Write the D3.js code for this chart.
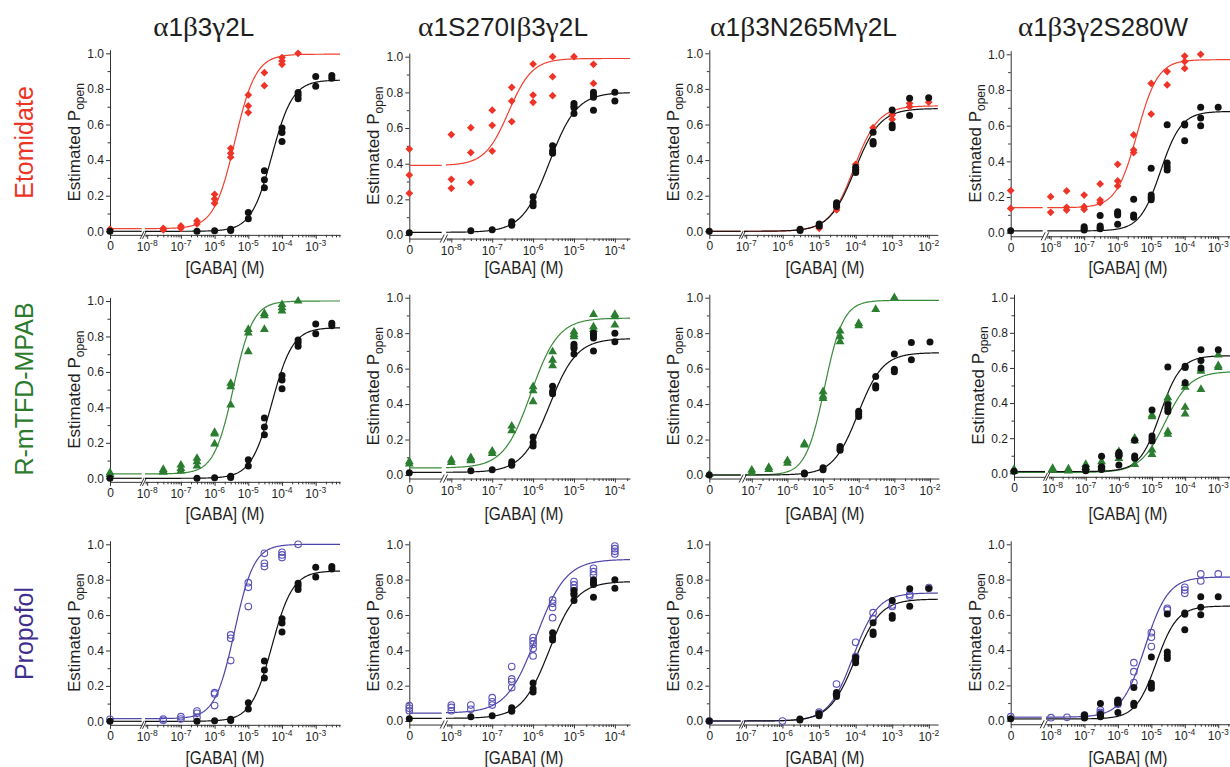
<!DOCTYPE html>
<html><head><meta charset="utf-8">
<script src="https://cdn.jsdelivr.net/npm/d3@7"></script>
<style>body{margin:0;background:#fff;overflow:hidden}</style>
</head><body>
<svg id="c" width="1230" height="767"></svg>
<script>
// ---------------- DATA ----------------
const columnTitles = ["α1β3γ2L", "α1S270Iβ3γ2L", "α1β3N265Mγ2L", "α1β3γ2S280W"];
const drugNames = ["Etomidate", "R-mTFD-MPAB", "Propofol"];
const xAxisTitle = "[GABA] (M)";
const yAxisTitle = "Estimated P";
const yAxisSub = "open";
const yTickValues = [0, 0.2, 0.4, 0.6, 0.8, 1.0];
const yMinorValues = [0.1, 0.3, 0.5, 0.7, 0.9];

// GABA alone (control, black) per receptor column: [GABA concentration (M), values]
const gabaAlone1 = [[0,[0.0]],[3e-7,[0.0]],[1e-6,[0.003]],[3e-6,[0.011,0.005]],[1e-5,[0.105,0.07]],[3e-5,[0.34,0.29,0.245]],[1e-4,[0.58,0.555,0.505]],[3e-4,[0.78,0.765,0.745]],[1e-3,[0.87,0.815]],[3e-3,[0.875,0.86]]];
const gabaAlone2 = [[0,[0.013]],[3e-8,[0.024]],[1e-7,[0.03]],[3e-7,[0.075,0.06,0.055]],[1e-6,[0.215,0.183,0.164]],[3e-6,[0.50,0.473,0.458]],[1e-5,[0.738,0.723,0.714,0.682]],[3e-5,[0.80,0.785,0.772,0.70]],[1e-4,[0.80,0.751]]];
const gabaAlone3 = [[0,[0.0]],[3e-6,[0.011,0.005]],[1e-5,[0.041,0.03]],[3e-5,[0.161,0.148,0.139]],[1e-4,[0.36,0.345,0.33]],[3e-4,[0.556,0.504,0.49]],[1e-3,[0.682,0.597,0.582]],[3e-3,[0.748,0.65]],[1e-2,[0.75]]];
const gabaAlone4 = [[0,[0.011]],[1e-7,[0.033,0.022,0.015]],[3e-7,[0.097,0.037,0.027,0.022]],[1e-6,[0.118,0.108,0.099,0.047]],[3e-6,[0.188,0.099,0.086]],[1e-5,[0.361,0.212,0.197,0.184]],[3e-5,[0.605,0.39,0.37,0.352]],[1e-4,[0.61,0.603,0.515]],[3e-4,[0.703,0.643,0.6]],[1e-3,[0.703]]];

// + Etomidate (red diamonds)
const etomidate1 = [[0,[0.012]],[3e-8,[0.017,0.008]],[1e-7,[0.03,0.017]],[3e-7,[0.058,0.041]],[1e-6,[0.208,0.182,0.157]],[3e-6,[0.466,0.438,0.416]],[1e-5,[0.766,0.704,0.667]],[3e-5,[0.891,0.818]],[1e-4,[0.976,0.957,0.938]],[3e-4,[1.0]]];
const etomidate2 = [[0,[0.482,0.336,0.234]],[1e-8,[0.563,0.312,0.262]],[3e-8,[0.602,0.462,0.295]],[1e-7,[0.70,0.615,0.471]],[3e-7,[0.828,0.751,0.636]],[1e-6,[0.959,0.785,0.744]],[3e-6,[1.0,0.888,0.781]],[1e-5,[1.0]],[3e-5,[0.957,0.85]]];
const etomidate3 = [[0,[0.0]],[1e-5,[0.025,0.017]],[3e-5,[0.135,0.12]],[1e-4,[0.376,0.345]],[3e-4,[0.582,0.494]],[1e-3,[0.654,0.629]],[3e-3,[0.719,0.70]],[1e-2,[0.725]]];
const etomidate4 = [[0,[0.236,0.136]],[1e-8,[0.202,0.114]],[3e-8,[0.234,0.142,0.127]],[1e-7,[0.211,0.146,0.131]],[3e-7,[0.273,0.183,0.168]],[1e-6,[0.383,0.29,0.262]],[3e-6,[0.548,0.464,0.449]],[1e-5,[0.837,0.665]],[3e-5,[0.903,0.828]],[1e-4,[0.99,0.959,0.921]],[3e-4,[1.0]]];

// + R-mTFD-MPAB (green triangles)
const mpab1 = [[0,[0.032,0.022]],[3e-8,[0.05,0.041,0.035]],[1e-7,[0.075,0.056,0.041]],[3e-7,[0.113,0.094,0.07]],[1e-6,[0.259,0.25,0.194]],[3e-6,[0.536,0.517,0.414]],[1e-5,[0.84,0.82,0.714]],[3e-5,[0.93,0.917,0.84]],[1e-4,[0.98,0.962,0.944]],[3e-4,[1.0]]];
const mpab2 = [[0,[0.075,0.062]],[1e-8,[0.085,0.071]],[3e-8,[0.098,0.088,0.081]],[1e-7,[0.135,0.122]],[3e-7,[0.276,0.25]],[1e-6,[0.498,0.476,0.414]],[3e-6,[0.695,0.648,0.617]],[1e-5,[0.808,0.793,0.78]],[3e-5,[0.906,0.836,0.821]],[1e-4,[0.906,0.893,0.846]]];
const mpab3 = [[0,[0.004]],[1e-7,[0.028,0.015]],[3e-7,[0.043,0.032]],[1e-6,[0.081,0.066]],[3e-6,[0.177,0.17]],[1e-5,[0.47,0.445,0.432]],[3e-5,[0.812,0.78,0.752]],[1e-4,[0.855,0.842]],[3e-4,[0.934]],[1e-3,[1.0]]];
const mpab4 = [[0,[0.023,0.01]],[1e-8,[0.028,0.019]],[3e-8,[0.025,0.013]],[1e-7,[0.051,0.034,0.019]],[3e-7,[0.066,0.047,0.03]],[1e-6,[0.123,0.11,0.085]],[3e-6,[0.2,0.186,0.051]],[1e-5,[0.332,0.323,0.133,0.108]],[3e-5,[0.43,0.41,0.237,0.222]],[1e-4,[0.512,0.49,0.376,0.338]],[3e-4,[0.594,0.582,0.478]],[1e-3,[0.674,0.613,0.603]]];

// + Propofol (purple open circles)
const propofol1 = [[0,[0.011]],[3e-8,[0.013,0.006]],[1e-7,[0.026,0.013]],[3e-7,[0.058,0.045,0.023]],[1e-6,[0.162,0.154,0.089]],[3e-6,[0.488,0.469,0.343]],[1e-5,[0.783,0.757,0.648]],[3e-5,[0.949,0.893,0.874]],[1e-4,[0.955,0.94,0.925]],[3e-4,[1.0]]];
const propofol2 = [[0,[0.087,0.072,0.058]],[1e-8,[0.09,0.077,0.058]],[3e-8,[0.09,0.066]],[1e-7,[0.132,0.109,0.09]],[3e-7,[0.308,0.238,0.223,0.189]],[1e-6,[0.472,0.453,0.434,0.411,0.368]],[3e-6,[0.685,0.666,0.643,0.585]],[1e-5,[0.789,0.77,0.751]],[3e-5,[0.864,0.845,0.826]],[1e-4,[0.99,0.975,0.96,0.945]]];
const propofol3 = [[0,[0.0]],[1e-6,[0.0]],[1e-5,[0.051,0.043]],[3e-5,[0.209,0.151]],[1e-4,[0.445,0.364]],[3e-4,[0.613,0.579]],[1e-3,[0.657,0.648]],[3e-3,[0.717,0.708]],[1e-2,[0.755]]];
const propofol4 = [[0,[0.023]],[1e-8,[0.017]],[3e-8,[0.019]],[1e-7,[0.032,0.022]],[3e-7,[0.06,0.047,0.04]],[1e-6,[0.112,0.102,0.093]],[3e-6,[0.329,0.278,0.216]],[1e-5,[0.499,0.473,0.42]],[3e-5,[0.637,0.628]],[1e-4,[0.756,0.741,0.722]],[3e-4,[0.832,0.792]],[1e-3,[0.832]]];

// Fitted Hill curves: [bottom, top, log10 EC50, Hill coefficient], row by row (4 per row)
const controlFits = [
  [0.0,0.85,-4.30,1.4],[0.015,0.80,-5.60,1.3],[0.0,0.69,-4.02,1.25],[0.01,0.68,-4.72,1.4],
  [0.0,0.85,-4.30,1.4],[0.015,0.77,-5.60,1.3],[0.0,0.69,-4.02,1.25],[0.01,0.67,-4.75,1.4],
  [0.0,0.85,-4.30,1.4],[0.015,0.79,-5.60,1.3],[0.0,0.69,-4.02,1.25],[0.01,0.65,-4.85,1.4]
];
const drugFits = [
  [0.015,0.995,-5.40,1.4],[0.39,0.99,-6.60,1.5],[0.0,0.705,-4.05,1.3],[0.14,0.97,-5.42,1.4],
  [0.025,1.0,-5.44,1.5],[0.04,0.885,-6.05,1.3],[0.0,0.985,-4.96,1.65],[0.005,0.58,-4.60,1.15],
  [0.015,1.0,-5.41,1.5],[0.045,0.915,-5.92,1.2],[0.0,0.725,-4.07,1.3],[0.02,0.815,-5.19,1.25]
];

const controlSets = [gabaAlone1, gabaAlone2, gabaAlone3, gabaAlone4];
const drugSets = [
  [etomidate1, etomidate2, etomidate3, etomidate4],
  [mpab1, mpab2, mpab3, mpab4],
  [propofol1, propofol2, propofol3, propofol4]
];

// ---------------- LAYOUT (pixel geometry per panel) ----------------
const layout = [
  {x0:110,   ze:141.7, lmin:-8.065, ls:145,    lmax:-2.28, le:340,    y1:53.3,  y0:231.3, tx:225},
  {x0:409.3, ze:441.7, lmin:-8.13,  ls:446,    lmax:-3.63, le:630,    y1:56.7,  y0:235,   tx:524},
  {x0:709.3, ze:740.7, lmin:-7.06,  ls:744,    lmax:-1.75, le:937.8,  y1:53.3,  y0:231.3, tx:825},
  {x0:1010.7,ze:1042.7,lmin:-8.1,   ls:1047.3, lmax:-2.2,  le:1245,   y1:54.3,  y0:232.7, tx:1128},
  {x0:110,   ze:141.7, lmin:-8.065, ls:145,    lmax:-2.28, le:340,    y1:301,   y0:478.3, tx:225},
  {x0:409.3, ze:441.7, lmin:-8.13,  ls:446,    lmax:-3.63, le:630,    y1:297.7, y0:475,   tx:524},
  {x0:709.3, ze:740.7, lmin:-7.19,  ls:745,    lmax:-1.75, le:938.9,  y1:297.7, y0:475,   tx:825},
  {x0:1014,  ze:1045,  lmin:-8.13,  ls:1048.3, lmax:-2.2,  le:1244.8, y1:297.7, y0:473.3, tx:1128},
  {x0:110,   ze:141.7, lmin:-8.065, ls:145,    lmax:-2.28, le:340,    y1:544.3, y0:721.3, tx:225},
  {x0:409.3, ze:441.7, lmin:-8.13,  ls:446,    lmax:-3.63, le:630,    y1:544.3, y0:721,   tx:524},
  {x0:709.3, ze:740.7, lmin:-7.05,  ls:744,    lmax:-1.75, le:938,    y1:544.3, y0:721,   tx:825},
  {x0:1010.7,ze:1041.7,lmin:-8.15,  ls:1046,   lmax:-2.2,  le:1245,   y1:544.3, y0:720.7, tx:1128}
];
const rowTitleBase = [274, 520, 764];
const rowLabelY = [142.5, 389, 633.5];
const colTitleX = [203.7, 503, 803.5, 1103];
const colTitleW = [101, 170, 187, 170];

const SANS = "'Liberation Sans', Arial, Helvetica, sans-serif";
const SERIF = "'Liberation Serif', 'Times New Roman', serif";
const drugColors = ["#ec3326", "#2b7a2e", "#3e2f8e"];
const curveColors = ["#f0402f", "#3a8a3c", "#4d45a6"];
const markerColors = ["#ee3427", "#2b7d30", "#5a52b8"];
const TXT = "#1e1e1e";

const svg = d3.select("#c");

function hill(p, lx) { return p[0] + (p[1]-p[0]) / (1 + Math.pow(10, (p[2]-lx)*p[3])); }

function fitWidth(sel, cx, cy, target, rotate) {
  const w = sel.node().getComputedTextLength();
  const k = target / w;
  sel.attr("transform", `translate(${cx},${cy})${rotate ? " rotate(-90)" : ""} scale(${k},1)`)
     .attr("x", 0).attr("y", 0);
}

// column titles
columnTitles.forEach((t, c) => {
  const txt = svg.append("text").attr("text-anchor","middle").attr("font-size",25)
    .attr("fill", TXT).attr("font-family", SANS);
  const runs = t.match(/[α-ω]+|[^α-ω]+/g);
  runs.forEach(r => {
    txt.append("tspan").text(r)
      .attr("font-family", /[α-ω]/.test(r) ? SERIF : SANS)
      .attr("font-size", /[α-ω]/.test(r) ? 28 : 25);
  });
  fitWidth(txt, colTitleX[c], 36, colTitleW[c], false);
});

// row labels
drugNames.forEach((d, r) => {
  svg.append("text").attr("text-anchor","middle").attr("font-family", SANS)
    .attr("font-size", 25).attr("fill", drugColors[r])
    .attr("transform", `translate(33,${rowLabelY[r]}) rotate(-90)`).text(d);
});

const axisColor = "#333";
function styleAxis(g) {
  g.selectAll("path,line").attr("stroke", axisColor).attr("stroke-width", 1);
  g.selectAll("text").attr("fill", TXT).attr("font-family", SANS);
}

layout.forEach((g, i) => {
  const r = Math.floor(i/4), c = i % 4;
  const P = svg.append("g");
  const yS = d3.scaleLinear().domain([0,1]).range([g.y0, g.y1]);
  const yAx = d3.scaleLinear().domain([-0.02, 1.02]).range([yS(-0.02), yS(1.02)]);
  const xL = d3.scaleLog().domain([Math.pow(10,g.lmin), Math.pow(10,g.lmax)]).range([g.ls, g.le]);
  const xZ = d3.scaleLinear().domain([0,1]).range([g.x0, g.ze]);
  const xPos = v => v === 0 ? xZ(0) : xL(v);
  const axY = yS(-0.02);

  // y axis
  const ya = P.append("g").attr("transform", `translate(${g.x0},0)`)
    .call(d3.axisLeft(yAx).tickValues(yTickValues).tickFormat(d3.format(".1f")).tickSize(4).tickSizeOuter(0).tickPadding(2));
  styleAxis(ya); ya.selectAll("text").attr("font-size", 12);
  const ym = P.append("g").attr("transform", `translate(${g.x0},0)`)
    .call(d3.axisLeft(yAx).tickValues(yMinorValues).tickFormat("").tickSize(2.5).tickSizeOuter(0));
  styleAxis(ym); ym.select("path").remove();

  // x axis: zero segment
  const xz = P.append("g").attr("transform", `translate(0,${axY})`)
    .call(d3.axisBottom(xZ).tickValues([0]).tickFormat(() => "0").tickSize(4).tickSizeOuter(0).tickPadding(3));
  styleAxis(xz); xz.selectAll("text").attr("font-size", 12);

  // x axis: log segment
  const decades = d3.range(Math.ceil(g.lmin), Math.floor(g.lmax)+1);
  const minors = [];
  d3.range(Math.floor(g.lmin), Math.ceil(g.lmax)).forEach(k => {
    for (let m = 2; m <= 9; m++) {
      const lv = k + Math.log10(m);
      if (lv > g.lmin && lv < g.lmax) minors.push(Math.pow(10, lv));
    }
  });
  const xl = P.append("g").attr("transform", `translate(0,${axY})`)
    .call(d3.axisBottom(xL).tickValues(decades.map(k => Math.pow(10,k))).tickFormat("").tickSize(4).tickSizeOuter(0));
  styleAxis(xl);
  const xm = P.append("g").attr("transform", `translate(0,${axY})`)
    .call(d3.axisBottom(xL).tickValues(minors).tickFormat("").tickSize(2.5).tickSizeOuter(0));
  styleAxis(xm); xm.select("path").remove();

  // decade labels with superscripts
  decades.forEach(k => {
    const t = P.append("text").attr("x", xL(Math.pow(10,k))).attr("y", axY + 16)
      .attr("text-anchor","middle").attr("font-family", SANS).attr("fill", TXT).attr("font-size", 12);
    t.append("tspan").text("10");
    t.append("tspan").text(String(k)).attr("font-size", 8.5).attr("dy", -5);
  });

  // axis break marks
  [g.ze + 0.5, g.ls - 0.5].forEach(bx => {
    P.append("line").attr("x1", bx - 2).attr("y1", axY + 4).attr("x2", bx + 2).attr("y2", axY - 4)
      .attr("stroke", axisColor).attr("stroke-width", 1);
  });

  // axis titles
  const xt = P.append("text").attr("text-anchor","middle").attr("font-family", SANS)
    .attr("font-size", 18.5).attr("fill", TXT).text(xAxisTitle);
  fitWidth(xt, g.tx, rowTitleBase[r], 79, false);

  const yt = P.append("text").attr("text-anchor","middle").attr("font-family", SANS)
    .attr("font-size", 17).attr("fill", TXT)
    .attr("transform", `translate(${g.x0 - 30},${(g.y0 + g.y1)/2}) rotate(-90)`);
  yt.append("tspan").text(yAxisTitle);
  yt.append("tspan").text(yAxisSub).attr("font-size", 12).attr("dy", 4);

  // curves
  const line = d3.line().x(d => d[0]).y(d => d[1]);
  const fits = [[drugFits[i], curveColors[r]], [controlFits[i], "#111"]];
  fits.forEach(([p, col]) => {
    const flat = [[xZ(0), yS(p[0])], [g.ze, yS(p[0])]];
    P.append("path").attr("d", line(flat)).attr("fill","none").attr("stroke", col).attr("stroke-width", 1.2);
    const pts = d3.range(0, 301).map(j => {
      const lx = g.lmin + (g.lmax - g.lmin) * j / 300;
      return [xL(Math.pow(10, lx)), yS(hill(p, lx))];
    });
    P.append("path").attr("d", line(pts)).attr("fill","none").attr("stroke", col).attr("stroke-width", 1.2);
  });

  // drug points
  const flatten = set => set.flatMap(([cc, vals]) => vals.map(v => [cc, v]));
  const drugPts = flatten(drugSets[r][c]);
  if (r === 0) {
    P.selectAll(null).data(drugPts).enter().append("path")
      .attr("d", d3.symbol(d3.symbolSquare, 30)())
      .attr("transform", d => `translate(${xPos(d[0])},${yS(d[1])}) rotate(45)`)
      .attr("fill", markerColors[0]);
  } else if (r === 1) {
    P.selectAll(null).data(drugPts).enter().append("path")
      .attr("d", d3.symbol(d3.symbolTriangle, 34)())
      .attr("transform", d => `translate(${xPos(d[0])},${yS(d[1])})`)
      .attr("fill", markerColors[1]);
  } else {
    P.selectAll(null).data(drugPts).enter().append("circle")
      .attr("cx", d => xPos(d[0])).attr("cy", d => yS(d[1])).attr("r", 3.3)
      .attr("fill", "none").attr("stroke", markerColors[2]).attr("stroke-width", 1.1);
  }
  // control points
  P.selectAll(null).data(flatten(controlSets[c])).enter().append("circle")
    .attr("cx", d => xPos(d[0])).attr("cy", d => yS(d[1])).attr("r", 3.5)
    .attr("fill", "#111");
});
</script>
</body></html>
